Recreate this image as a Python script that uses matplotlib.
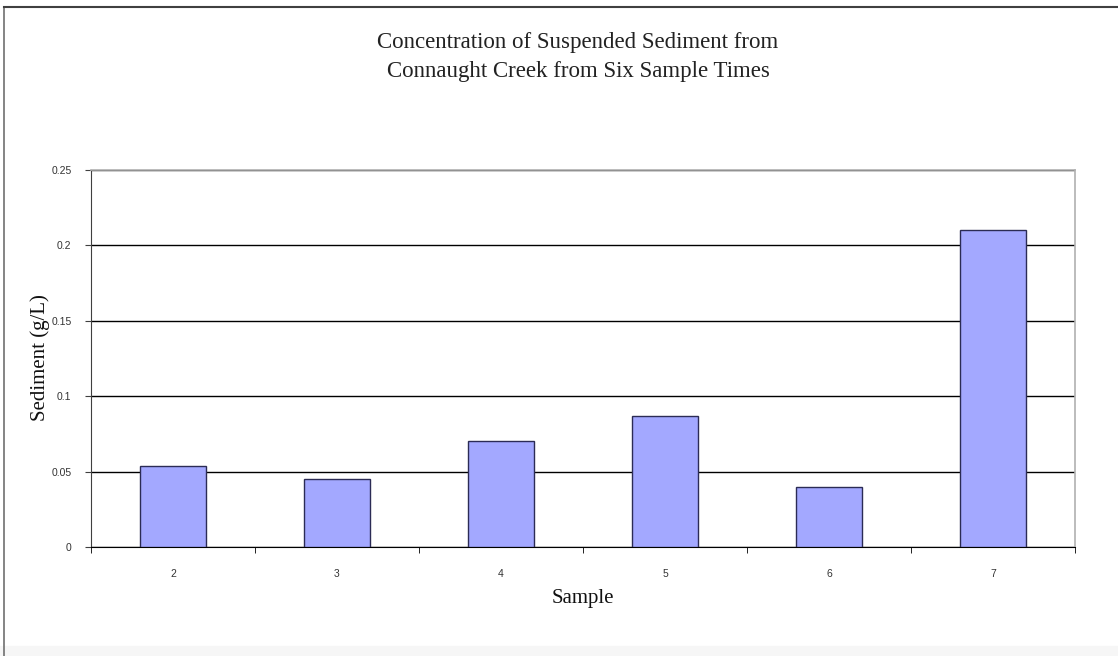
import matplotlib
matplotlib.use("Agg")
import matplotlib.pyplot as plt
from matplotlib.patches import Rectangle
import numpy as np

samples = ["2", "3", "4", "5", "6", "7"]
sediment = [0.054, 0.045, 0.070, 0.087, 0.040, 0.210]
yticks = [0, 0.05, 0.1, 0.15, 0.2, 0.25]
ytick_labels = ["0", "0.05", "0.1", "0.15", "0.2", "0.25"]

W, H = 1118, 656
fig = plt.figure(figsize=(W / 100, H / 100), dpi=100)
fig.patch.set_facecolor("white")

# outer chart border (top and left visible)
fig.add_artist(plt.Line2D([4 / W, 4 / W], [0, 1 - 7 / H], color="#707070", lw=1.2, transform=fig.transFigure))
fig.add_artist(plt.Line2D([4 / W, 1], [1 - 7 / H, 1 - 7 / H], color="#404040", lw=1.5, transform=fig.transFigure))
fig.add_artist(Rectangle((0, 0), 1, 10 / H, transform=fig.transFigure, color="#f6f6f6", zorder=0))

left, right, top, bottom = 91, 1075, 170, 547
ax = fig.add_axes([left / W, 1 - bottom / H, (right - left) / W, (bottom - top) / H])

x = np.arange(len(samples))
ax.bar(x, sediment, width=0.40, color="#A3A8FF", edgecolor="#2b2b55", linewidth=1.0, zorder=3)

ax.set_xlim(-0.5, len(samples) - 0.5)
ax.set_ylim(0, 0.25)
ax.set_yticks(yticks)
ax.set_yticklabels(ytick_labels, fontsize=7.5, family="Liberation Sans", color="#333333")
ax.yaxis.grid(True, color="black", lw=1.0, zorder=1)
ax.set_axisbelow(True)

ax.set_xticks(x)
ax.set_xticklabels(samples, fontsize=7.5, family="Liberation Sans", color="#333333")
ax.tick_params(axis="x", length=0, pad=16)
ax.set_xticks(np.arange(-0.5, len(samples) + 0.5, 1), minor=True)
ax.tick_params(axis="x", which="minor", length=4, direction="out", color="black")
ax.tick_params(axis="y", length=4, direction="out", color="#404040", pad=10)

for s in ["top", "right"]:
    ax.spines[s].set_color("#b0b0b0")
    ax.spines[s].set_linewidth(1.2)
ax.spines["left"].set_color("#404040")
ax.spines["bottom"].set_color("black")

fig.text(578 / W, 1 - 57 / H, "Concentration of Suspended Sediment from\nConnaught Creek from Six Sample Times",
         ha="center", va="center", fontsize=16.5, family="Liberation Serif", linespacing=1.5, color="#222222")
fig.text(40 / W, 1 - 358 / H, "Sediment (g/L)", rotation=90, ha="center", va="center",
         fontsize=15, family="Liberation Serif", color="#111111")
fig.text(583 / W, 1 - 598 / H, "Sample", ha="center", va="center",
         fontsize=15, family="Liberation Serif", color="#111111")

fig.savefig("out.png", dpi=100)
